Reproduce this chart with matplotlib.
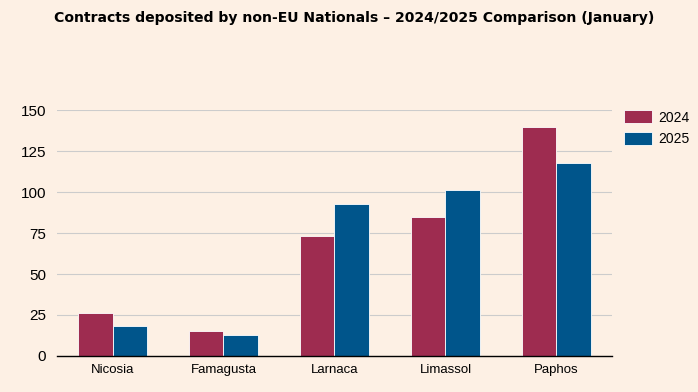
import numpy as np
import matplotlib.pyplot as plt

# data
districts = ['Nicosia', 'Famagusta', 'Larnaca', 'Limassol', 'Paphos']
y2024 = [26, 15, 73, 85, 140]
y2025 = [18, 13, 93, 101, 118]
yticks = [0, 25, 50, 75, 100, 125, 150]

bg = '#fdf0e4'
c2024 = '#9e2c50'
c2025 = '#00558b'

fig = plt.figure(figsize=(6.98, 3.92), dpi=100, facecolor=bg)
ax = fig.add_axes([0.0817, 0.092, 0.795, 0.627], facecolor=bg)

x = np.arange(len(districts))
w = 0.31
ax.bar(x - w / 2, y2024, w, color=c2024, edgecolor='white', linewidth=0.6, label='2024', zorder=3)
ax.bar(x + w / 2, y2025, w, color=c2025, edgecolor='white', linewidth=0.6, label='2025', zorder=3)

ax.set_xlim(-0.5, len(districts) - 0.5)
ax.set_ylim(0, 150)
ax.set_yticks(yticks)
ax.set_xticks(x)
ax.set_xticklabels(districts, fontsize=9.5, family='Liberation Sans')
for t in ax.get_yticklabels():
    t.set_fontsize(11)
    t.set_family('Liberation Sans')
ax.tick_params(axis='both', length=0, pad=8)
ax.tick_params(axis='x', pad=6)
ax.grid(axis='y', color='#cccccc', linewidth=0.8, zorder=0)
for s in ['top', 'right', 'left']:
    ax.spines[s].set_visible(False)
ax.spines['bottom'].set_color('black')
ax.spines['bottom'].set_linewidth(1)
ax.spines['bottom'].set_zorder(4)

leg = ax.legend(loc='upper left', bbox_to_anchor=(1.0, 1.05), frameon=False,
                prop={'family': 'Liberation Sans', 'size': 10},
                handlelength=2.0, handleheight=1.05, handletextpad=0.4, labelspacing=0.55)

fig.text(0.508, 0.955, 'Contracts deposited by non-EU Nationals \u2013 2024/2025 Comparison (January)',
         ha='center', va='center', fontsize=10.1, fontweight='bold', family='DejaVu Sans')

fig.savefig('out.png', dpi=100, facecolor=bg)
